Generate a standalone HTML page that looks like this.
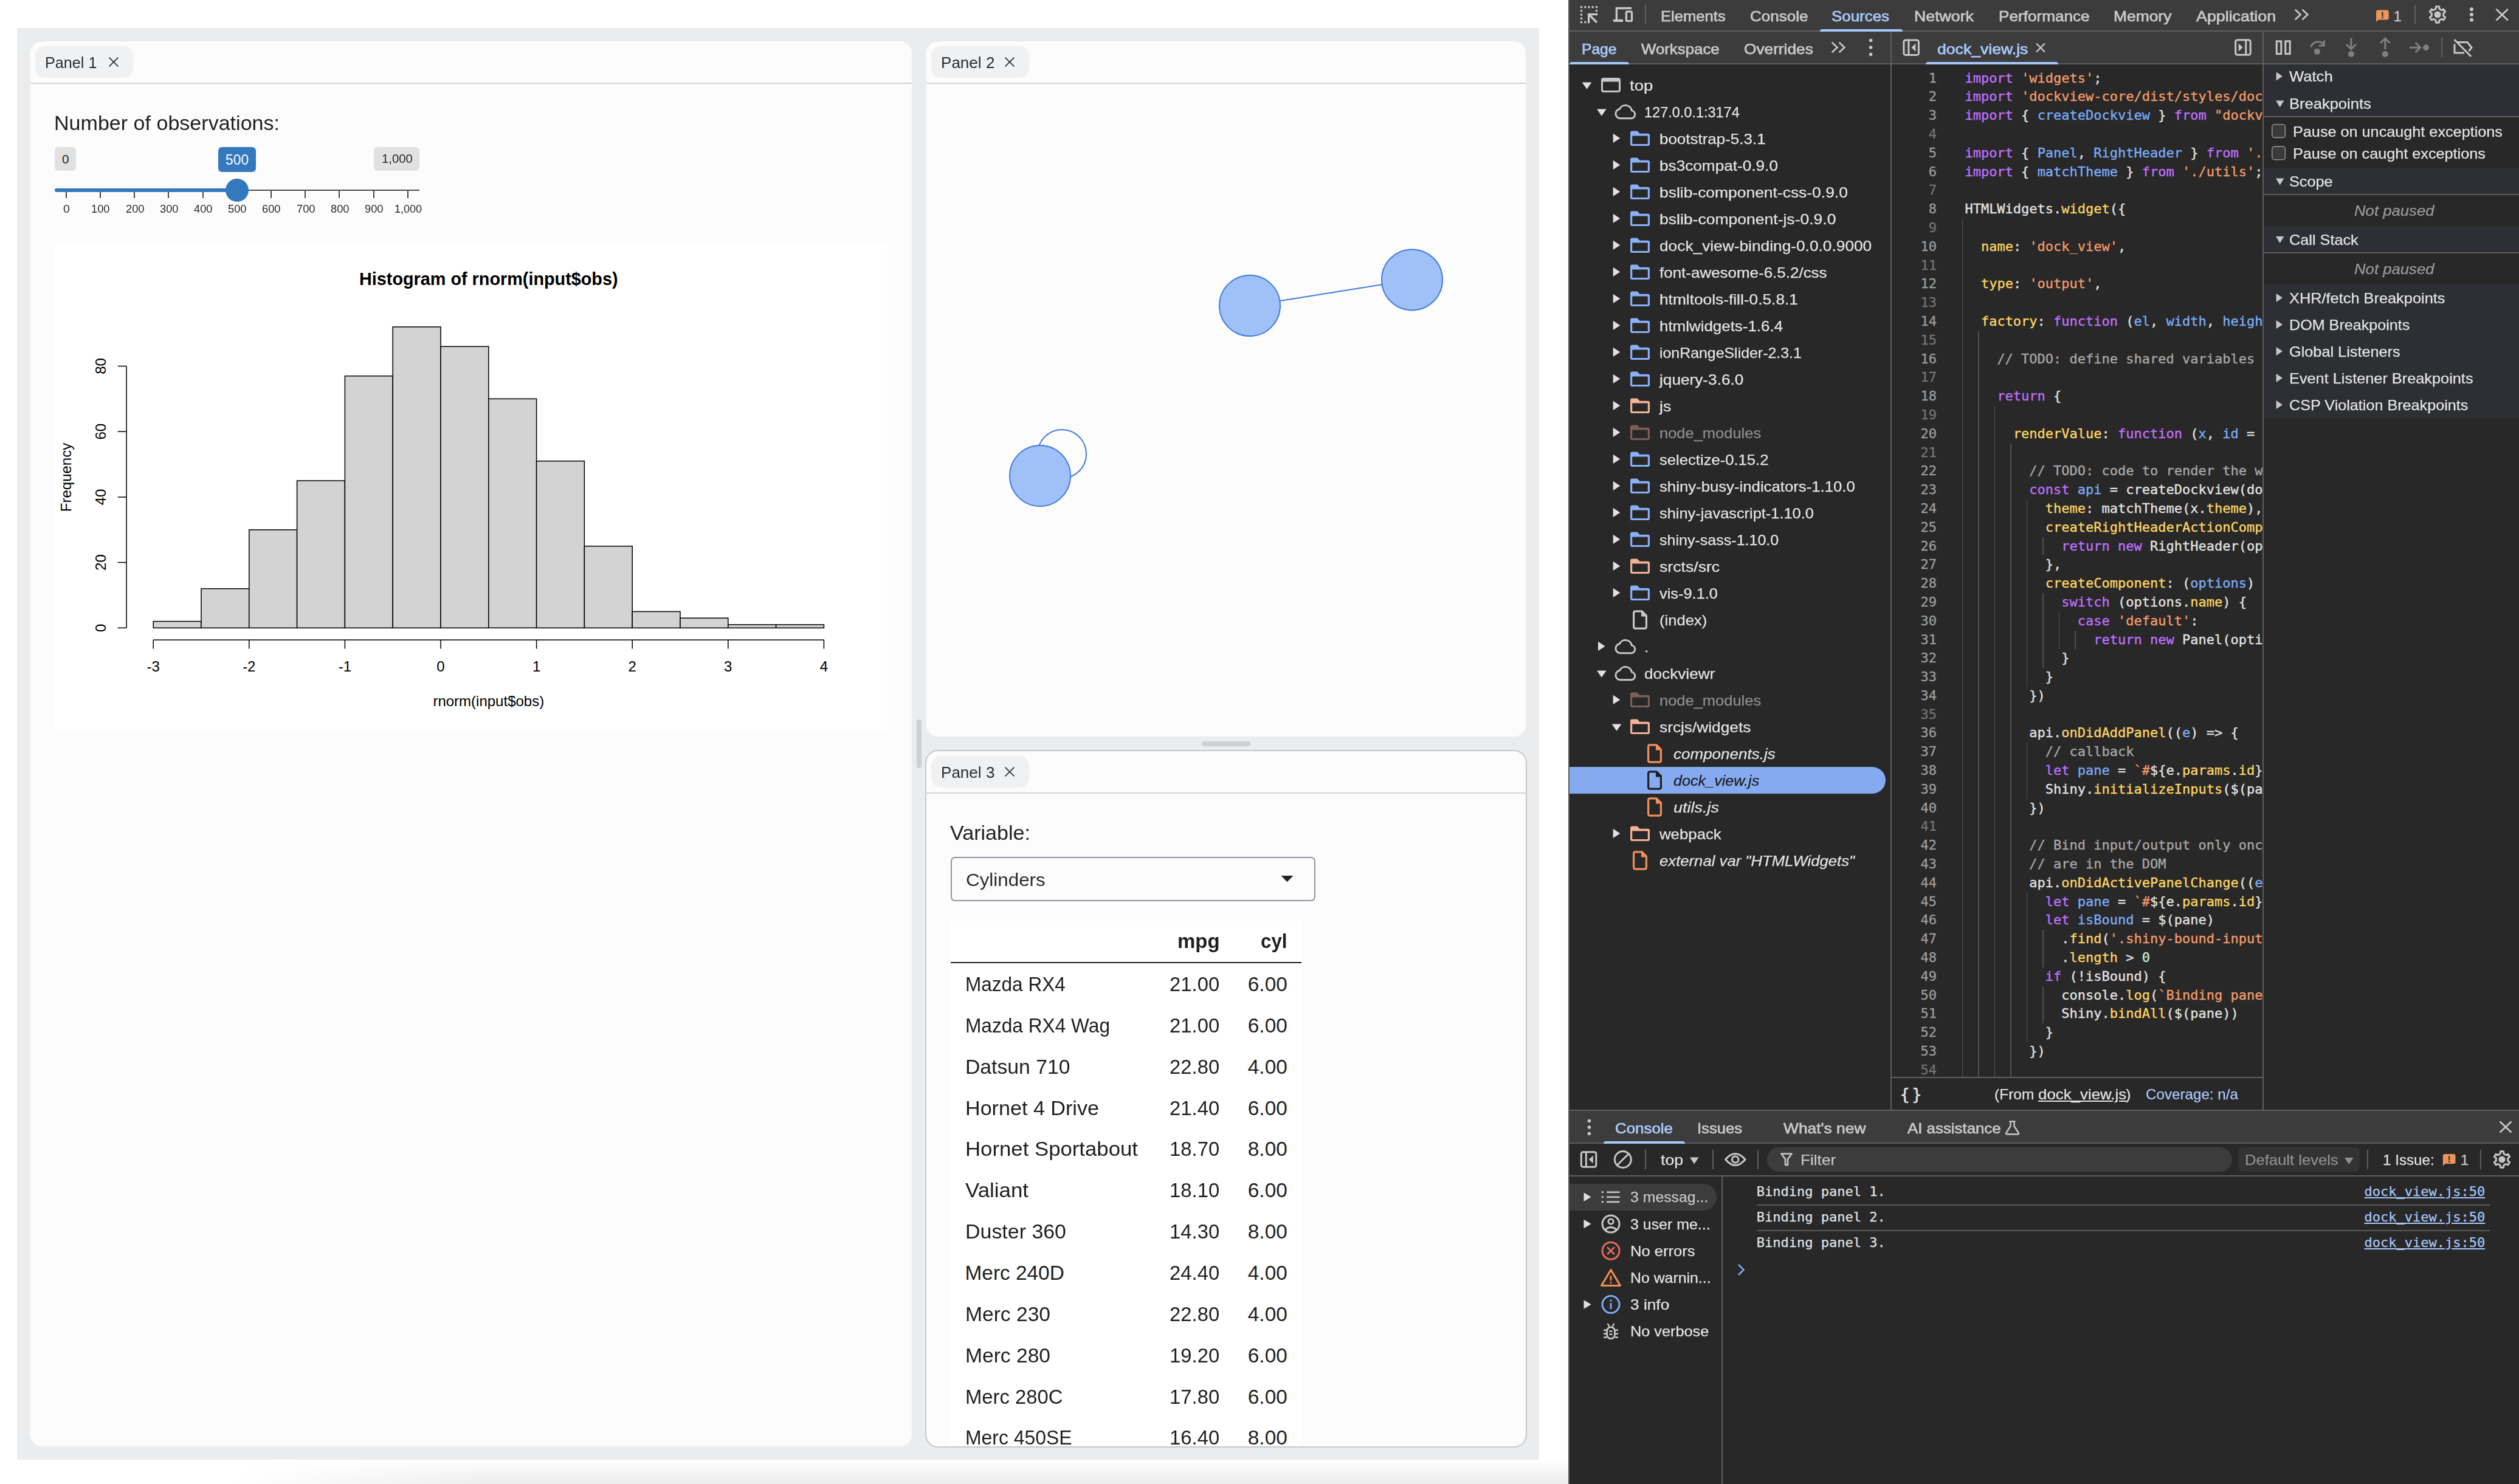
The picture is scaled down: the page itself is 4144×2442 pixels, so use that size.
<!DOCTYPE html>
<html lang="en"><head><meta charset="utf-8"><title>dockview shiny app with devtools</title>
<style>
html,body{margin:0;padding:0;background:#fff;}
body{width:4144px;height:2442px;position:relative;overflow:hidden;font-family:'Liberation Sans', sans-serif;}
.b{position:absolute;box-sizing:border-box;}
.t{position:absolute;white-space:pre;transform-origin:0 0;}
svg{position:absolute;overflow:visible;}
.gd i{position:absolute;width:1.6px;height:30.9px;background:#505050;display:block}.cd{position:absolute;white-space:pre;font:22px "DejaVu Sans Mono", "Liberation Mono", monospace;line-height:30.8px;color:#e3e3e3;-webkit-text-stroke:0.35px}.cd .k{color:#c070ff}.cd .s{color:#f49c6b}.cd .d{color:#7cacf8}.cd .p{color:#fdd663}.cd .c{color:#a8a8a8}.cd .n{color:#c4eed0}.ln{color:#9c9c9c;text-align:right}.ln .z{color:#737373}
</style></head><body>
<div class="b" style="left:28px;top:46px;width:2504px;height:2356px;background:#ebecee;"></div>
<div class="b" style="left:380px;top:2402px;width:2200px;height:40px;background:linear-gradient(to bottom, rgba(0,0,0,0.0), rgba(0,0,0,0.075));-webkit-mask-image:linear-gradient(to right, transparent 0, #000 420px);mask-image:linear-gradient(to right, transparent 0, #000 420px);"></div>
<div class="b" style="left:48px;top:66px;width:1454px;height:2316px;border:2px solid transparent;border-radius:21px;background:#fcfcfc;background-clip:padding-box;"></div>
<div class="b" style="left:50px;top:136px;width:1450px;height:2px;background:#d3d3d3;"></div>
<div class="b" style="left:58px;top:76px;width:161px;height:52px;background:#f0f1f3;border-radius:16px;"></div>
<div class="t" style="left:74.3px;top:89.9px;font:26.6px 'Liberation Sans', sans-serif;line-height:1;color:#2a2c2e;transform:scaleX(0.9467);">Panel 1</div>
<svg style="left:177.8px;top:92.7px" width="18" height="18" viewBox="-9 -9 18 18"><path d="M-7.4-7.4L7.4 7.4M7.4-7.4L-7.4 7.4" stroke="#2f3133" stroke-width="1.7" fill="none"/></svg>
<div class="b" style="left:1522px;top:66px;width:990px;height:1148px;border:2px solid transparent;border-radius:21px;background:#fcfcfc;background-clip:padding-box;"></div>
<div class="b" style="left:1524px;top:136px;width:986px;height:2px;background:#d3d3d3;"></div>
<div class="b" style="left:1532px;top:76px;width:161px;height:52px;background:#f0f1f3;border-radius:16px;"></div>
<div class="t" style="left:1548.3px;top:89.9px;font:26.6px 'Liberation Sans', sans-serif;line-height:1;color:#2a2c2e;transform:scaleX(0.9799);">Panel 2</div>
<svg style="left:1651.8px;top:92.7px" width="18" height="18" viewBox="-9 -9 18 18"><path d="M-7.4-7.4L7.4 7.4M7.4-7.4L-7.4 7.4" stroke="#2f3133" stroke-width="1.7" fill="none"/></svg>
<div class="b" style="left:1522px;top:1234px;width:990px;height:1148px;border:2px solid #c6c8ca;border-radius:21px;background:#fcfcfc;background-clip:padding-box;"></div>
<div class="b" style="left:1524px;top:1304px;width:986px;height:2px;background:#d3d3d3;"></div>
<div class="b" style="left:1532px;top:1244px;width:161px;height:52px;background:#f0f1f3;border-radius:16px;"></div>
<div class="t" style="left:1548.3px;top:1257.9px;font:26.6px 'Liberation Sans', sans-serif;line-height:1;color:#2a2c2e;transform:scaleX(0.9799);">Panel 3</div>
<svg style="left:1651.8px;top:1260.7px" width="18" height="18" viewBox="-9 -9 18 18"><path d="M-7.4-7.4L7.4 7.4M7.4-7.4L-7.4 7.4" stroke="#2f3133" stroke-width="1.7" fill="none"/></svg>
<div class="b" style="left:1508px;top:1184px;width:8px;height:80px;background:#cfd0d2;border-radius:4px;"></div>
<div class="b" style="left:1977px;top:1220px;width:80px;height:8px;background:#cfd0d2;border-radius:4px;"></div>
<div class="t" style="left:89.2px;top:185.7px;font:33.4px 'Liberation Sans', sans-serif;line-height:1;color:#1d1f21;transform:scaleX(1.0199);">Number of observations:</div>
<div class="b" style="left:90px;top:242px;width:35px;height:39px;background:#e1e1e1;border-radius:6px;"></div>
<div class="t" style="left:101.9px;top:251.6px;font:20.8px 'Liberation Sans', sans-serif;line-height:1;color:#2b2b2b;">0</div>
<div class="b" style="left:615px;top:242px;width:75px;height:39px;background:#e1e1e1;border-radius:6px;"></div>
<div class="t" style="left:627.6px;top:251.4px;font:20.8px 'Liberation Sans', sans-serif;line-height:1;color:#2b2b2b;transform:scaleX(0.9774);">1,000</div>
<div class="b" style="left:359px;top:242px;width:62px;height:41px;background:#3478be;border-radius:6px;"></div>
<div class="t" style="left:371.0px;top:252.0px;font:23.4px 'Liberation Sans', sans-serif;line-height:1;color:#ffffff;transform:scaleX(0.9789);">500</div>
<div class="b" style="left:90px;top:312px;width:600px;height:2px;background:#4b4b4b;"></div>
<div class="b" style="left:90px;top:310px;width:300px;height:6px;background:#3478be;border-radius:3px 0 0 3px;"></div>
<div class="b" style="left:108px;top:316px;width:2px;height:10px;background:#454545;"></div>
<div class="t" style="left:103.9px;top:335.3px;font:18.7px 'Liberation Sans', sans-serif;line-height:1;color:#2b2b2b;transform:scaleX(1.0458);">0</div>
<div class="b" style="left:164px;top:316px;width:2px;height:10px;background:#454545;"></div>
<div class="t" style="left:150.3px;top:335.3px;font:18.7px 'Liberation Sans', sans-serif;line-height:1;color:#2b2b2b;transform:scaleX(0.9774);">100</div>
<div class="b" style="left:220px;top:316px;width:2px;height:10px;background:#454545;"></div>
<div class="t" style="left:206.5px;top:335.3px;font:18.7px 'Liberation Sans', sans-serif;line-height:1;color:#2b2b2b;transform:scaleX(0.9774);">200</div>
<div class="b" style="left:276px;top:316px;width:2px;height:10px;background:#454545;"></div>
<div class="t" style="left:262.7px;top:335.3px;font:18.7px 'Liberation Sans', sans-serif;line-height:1;color:#2b2b2b;transform:scaleX(0.9774);">300</div>
<div class="b" style="left:333px;top:316px;width:2px;height:10px;background:#454545;"></div>
<div class="t" style="left:318.9px;top:335.3px;font:18.7px 'Liberation Sans', sans-serif;line-height:1;color:#2b2b2b;transform:scaleX(0.9774);">400</div>
<div class="b" style="left:389px;top:314px;width:2px;height:12px;background:#454545;"></div>
<div class="t" style="left:375.1px;top:335.3px;font:18.7px 'Liberation Sans', sans-serif;line-height:1;color:#2b2b2b;transform:scaleX(0.9774);">500</div>
<div class="b" style="left:445px;top:314px;width:2px;height:12px;background:#454545;"></div>
<div class="t" style="left:431.3px;top:335.3px;font:18.7px 'Liberation Sans', sans-serif;line-height:1;color:#2b2b2b;transform:scaleX(0.9774);">600</div>
<div class="b" style="left:501px;top:314px;width:2px;height:12px;background:#454545;"></div>
<div class="t" style="left:487.5px;top:335.3px;font:18.7px 'Liberation Sans', sans-serif;line-height:1;color:#2b2b2b;transform:scaleX(0.9774);">700</div>
<div class="b" style="left:557px;top:314px;width:2px;height:12px;background:#454545;"></div>
<div class="t" style="left:543.7px;top:335.3px;font:18.7px 'Liberation Sans', sans-serif;line-height:1;color:#2b2b2b;transform:scaleX(0.9774);">800</div>
<div class="b" style="left:614px;top:314px;width:2px;height:12px;background:#454545;"></div>
<div class="t" style="left:599.9px;top:335.3px;font:18.7px 'Liberation Sans', sans-serif;line-height:1;color:#2b2b2b;transform:scaleX(0.9774);">900</div>
<div class="b" style="left:670px;top:314px;width:2px;height:12px;background:#454545;"></div>
<div class="t" style="left:648.8px;top:335.3px;font:18.7px 'Liberation Sans', sans-serif;line-height:1;color:#2b2b2b;transform:scaleX(0.9640);">1,000</div>
<div class="b" style="left:371px;top:294px;width:38px;height:38px;background:#3478be;border-radius:50%;"></div>
<svg style="left:90px;top:400px" width="1370" height="800" viewBox="90 400 1370 800" font-family="Liberation Sans, sans-serif" fill="#000"><rect x="90" y="400" width="1370" height="800" fill="#ffffff"/><rect x="252.2" y="1022.5" width="78.8" height="10.8" fill="#d3d3d3" stroke="#000" stroke-width="1.5"/><rect x="331.0" y="968.7" width="78.8" height="64.6" fill="#d3d3d3" stroke="#000" stroke-width="1.5"/><rect x="409.8" y="871.8" width="78.8" height="161.5" fill="#d3d3d3" stroke="#000" stroke-width="1.5"/><rect x="488.6" y="791.0" width="78.8" height="242.3" fill="#d3d3d3" stroke="#000" stroke-width="1.5"/><rect x="567.4" y="618.7" width="78.8" height="414.6" fill="#d3d3d3" stroke="#000" stroke-width="1.5"/><rect x="646.2" y="537.9" width="78.8" height="495.4" fill="#d3d3d3" stroke="#000" stroke-width="1.5"/><rect x="725.0" y="570.2" width="78.8" height="463.1" fill="#d3d3d3" stroke="#000" stroke-width="1.5"/><rect x="803.8" y="656.3" width="78.8" height="376.9" fill="#d3d3d3" stroke="#000" stroke-width="1.5"/><rect x="882.6" y="758.7" width="78.8" height="274.6" fill="#d3d3d3" stroke="#000" stroke-width="1.5"/><rect x="961.4" y="898.7" width="78.8" height="134.6" fill="#d3d3d3" stroke="#000" stroke-width="1.5"/><rect x="1040.2" y="1006.4" width="78.8" height="26.9" fill="#d3d3d3" stroke="#000" stroke-width="1.5"/><rect x="1119.0" y="1017.1" width="78.8" height="16.2" fill="#d3d3d3" stroke="#000" stroke-width="1.5"/><rect x="1197.8" y="1027.9" width="78.8" height="5.4" fill="#d3d3d3" stroke="#000" stroke-width="1.5"/><rect x="1276.6" y="1027.9" width="78.8" height="5.4" fill="#d3d3d3" stroke="#000" stroke-width="1.5"/><path d="M252.2 1053.1H1355.4M252.2 1053.1v14.4M409.8 1053.1v14.4M567.4 1053.1v14.4M725.0 1053.1v14.4M882.6 1053.1v14.4M1040.2 1053.1v14.4M1197.8 1053.1v14.4M1355.4 1053.1v14.4M208.1 1033.3V602.5M208.1 1033.3h-14.4M208.1 925.6h-14.4M208.1 817.9h-14.4M208.1 710.2h-14.4M208.1 602.5h-14.4" stroke="#000" stroke-width="1.5" fill="none"/><text x="252.2" y="1105.4" font-size="24" text-anchor="middle">-3</text><text x="409.8" y="1105.4" font-size="24" text-anchor="middle">-2</text><text x="567.4" y="1105.4" font-size="24" text-anchor="middle">-1</text><text x="725.0" y="1105.4" font-size="24" text-anchor="middle">0</text><text x="882.6" y="1105.4" font-size="24" text-anchor="middle">1</text><text x="1040.2" y="1105.4" font-size="24" text-anchor="middle">2</text><text x="1197.8" y="1105.4" font-size="24" text-anchor="middle">3</text><text x="1355.4" y="1105.4" font-size="24" text-anchor="middle">4</text><text transform="translate(174.4 1033.3) rotate(-90)" font-size="24" text-anchor="middle">0</text><text transform="translate(174.4 925.6) rotate(-90)" font-size="24" text-anchor="middle">20</text><text transform="translate(174.4 817.9) rotate(-90)" font-size="24" text-anchor="middle">40</text><text transform="translate(174.4 710.2) rotate(-90)" font-size="24" text-anchor="middle">60</text><text transform="translate(174.4 602.5) rotate(-90)" font-size="24" text-anchor="middle">80</text><text x="803.8" y="1162" font-size="24" text-anchor="middle">rnorm(input$obs)</text><text transform="translate(116.8 785.5) rotate(-90)" font-size="24" text-anchor="middle">Frequency</text><text x="803.8" y="469.3" font-size="28.8" font-weight="bold" text-anchor="middle">Histogram of rnorm(input$obs)</text></svg>
<svg style="left:1524px;top:138px" width="986" height="1074" viewBox="1524 138 986 1074"><g stroke="#3f7be0" stroke-width="2"><circle cx="1747" cy="747" r="40" fill="none"/><line x1="2056" y1="503" x2="2323" y2="460.4"/><circle cx="2056" cy="503" r="50" fill="#a0c1f8"/><circle cx="2323" cy="460.4" r="50" fill="#a0c1f8"/><circle cx="1711" cy="783" r="50" fill="#a0c1f8"/></g></svg>
<div class="t" style="left:1562.5px;top:1354.2px;font:33.4px 'Liberation Sans', sans-serif;line-height:1;color:#1d1f21;transform:scaleX(1.0208);">Variable:</div>
<div class="b" style="left:1564px;top:1410px;width:600px;height:73px;background:#fcfcfc;border:2px solid #8d959f;border-radius:7px;"></div>
<div class="t" style="left:1589.0px;top:1431.7px;font:30.4px 'Liberation Sans', sans-serif;line-height:1;color:#2a2c2e;transform:scaleX(1.0321);">Cylinders</div>
<svg style="left:2107px;top:1441px" width="22" height="11" viewBox="0 0 22 11"><path d="M0.5 0H20.5L10.5 10.2Z" fill="#222"/></svg>
<div class="b" style="left:0;top:0;width:4144px;height:2442px;clip-path:inset(1306px 1634px 62px 1524px round 0 0 19px 19px)">
<div class="b" style="left:1564px;top:1514.5px;width:577px;height:870px;background:#ffffff;"></div>
<div class="b" style="left:1564px;top:1582.8px;width:577px;height:2px;background:#1d1f21;"></div>
<div class="t" style="left:1937.2px;top:1532.4px;font:bold 33.4px 'Liberation Sans', sans-serif;line-height:1;color:#1d1f21;transform:scaleX(0.9861);">mpg</div>
<div class="t" style="left:2074.3px;top:1532.4px;font:bold 33.4px 'Liberation Sans', sans-serif;line-height:1;color:#1d1f21;transform:scaleX(0.9372);">cyl</div>
<div class="t" style="left:1587.5px;top:1603.0px;font:33.4px 'Liberation Sans', sans-serif;line-height:1;color:#1d1f21;transform:scaleX(0.9441);">Mazda RX4</div>
<div class="t" style="left:1924.1px;top:1603.0px;font:33.4px 'Liberation Sans', sans-serif;line-height:1;color:#1d1f21;transform:scaleX(0.9838);">21.00</div>
<div class="t" style="left:2052.8px;top:1603.0px;font:33.4px 'Liberation Sans', sans-serif;line-height:1;color:#1d1f21;">6.00</div>
<div class="t" style="left:1587.5px;top:1670.9px;font:33.4px 'Liberation Sans', sans-serif;line-height:1;color:#1d1f21;transform:scaleX(0.9476);">Mazda RX4 Wag</div>
<div class="t" style="left:1924.1px;top:1670.9px;font:33.4px 'Liberation Sans', sans-serif;line-height:1;color:#1d1f21;transform:scaleX(0.9838);">21.00</div>
<div class="t" style="left:2052.8px;top:1670.9px;font:33.4px 'Liberation Sans', sans-serif;line-height:1;color:#1d1f21;">6.00</div>
<div class="t" style="left:1587.5px;top:1738.7px;font:33.4px 'Liberation Sans', sans-serif;line-height:1;color:#1d1f21;transform:scaleX(1.0100);">Datsun 710</div>
<div class="t" style="left:1924.1px;top:1738.7px;font:33.4px 'Liberation Sans', sans-serif;line-height:1;color:#1d1f21;transform:scaleX(0.9838);">22.80</div>
<div class="t" style="left:2052.8px;top:1738.7px;font:33.4px 'Liberation Sans', sans-serif;line-height:1;color:#1d1f21;">4.00</div>
<div class="t" style="left:1587.5px;top:1806.6px;font:33.4px 'Liberation Sans', sans-serif;line-height:1;color:#1d1f21;transform:scaleX(1.0220);">Hornet 4 Drive</div>
<div class="t" style="left:1924.1px;top:1806.6px;font:33.4px 'Liberation Sans', sans-serif;line-height:1;color:#1d1f21;transform:scaleX(0.9838);">21.40</div>
<div class="t" style="left:2052.8px;top:1806.6px;font:33.4px 'Liberation Sans', sans-serif;line-height:1;color:#1d1f21;">6.00</div>
<div class="t" style="left:1587.5px;top:1874.4px;font:33.4px 'Liberation Sans', sans-serif;line-height:1;color:#1d1f21;transform:scaleX(1.0408);">Hornet Sportabout</div>
<div class="t" style="left:1924.1px;top:1874.4px;font:33.4px 'Liberation Sans', sans-serif;line-height:1;color:#1d1f21;transform:scaleX(0.9838);">18.70</div>
<div class="t" style="left:2052.8px;top:1874.4px;font:33.4px 'Liberation Sans', sans-serif;line-height:1;color:#1d1f21;">8.00</div>
<div class="t" style="left:1587.5px;top:1942.3px;font:33.4px 'Liberation Sans', sans-serif;line-height:1;color:#1d1f21;transform:scaleX(1.0440);">Valiant</div>
<div class="t" style="left:1924.1px;top:1942.3px;font:33.4px 'Liberation Sans', sans-serif;line-height:1;color:#1d1f21;transform:scaleX(0.9838);">18.10</div>
<div class="t" style="left:2052.8px;top:1942.3px;font:33.4px 'Liberation Sans', sans-serif;line-height:1;color:#1d1f21;">6.00</div>
<div class="t" style="left:1587.5px;top:2010.1px;font:33.4px 'Liberation Sans', sans-serif;line-height:1;color:#1d1f21;transform:scaleX(1.0163);">Duster 360</div>
<div class="t" style="left:1924.1px;top:2010.1px;font:33.4px 'Liberation Sans', sans-serif;line-height:1;color:#1d1f21;transform:scaleX(0.9838);">14.30</div>
<div class="t" style="left:2052.8px;top:2010.1px;font:33.4px 'Liberation Sans', sans-serif;line-height:1;color:#1d1f21;">8.00</div>
<div class="t" style="left:1587.5px;top:2078.0px;font:33.4px 'Liberation Sans', sans-serif;line-height:1;color:#1d1f21;">Merc 240D</div>
<div class="t" style="left:1924.1px;top:2078.0px;font:33.4px 'Liberation Sans', sans-serif;line-height:1;color:#1d1f21;transform:scaleX(0.9838);">24.40</div>
<div class="t" style="left:2052.8px;top:2078.0px;font:33.4px 'Liberation Sans', sans-serif;line-height:1;color:#1d1f21;">4.00</div>
<div class="t" style="left:1587.5px;top:2145.8px;font:33.4px 'Liberation Sans', sans-serif;line-height:1;color:#1d1f21;transform:scaleX(1.0059);">Merc 230</div>
<div class="t" style="left:1924.1px;top:2145.8px;font:33.4px 'Liberation Sans', sans-serif;line-height:1;color:#1d1f21;transform:scaleX(0.9838);">22.80</div>
<div class="t" style="left:2052.8px;top:2145.8px;font:33.4px 'Liberation Sans', sans-serif;line-height:1;color:#1d1f21;">4.00</div>
<div class="t" style="left:1587.5px;top:2213.7px;font:33.4px 'Liberation Sans', sans-serif;line-height:1;color:#1d1f21;transform:scaleX(1.0059);">Merc 280</div>
<div class="t" style="left:1924.1px;top:2213.7px;font:33.4px 'Liberation Sans', sans-serif;line-height:1;color:#1d1f21;transform:scaleX(0.9838);">19.20</div>
<div class="t" style="left:2052.8px;top:2213.7px;font:33.4px 'Liberation Sans', sans-serif;line-height:1;color:#1d1f21;">6.00</div>
<div class="t" style="left:1587.5px;top:2281.5px;font:33.4px 'Liberation Sans', sans-serif;line-height:1;color:#1d1f21;transform:scaleX(0.9828);">Merc 280C</div>
<div class="t" style="left:1924.1px;top:2281.5px;font:33.4px 'Liberation Sans', sans-serif;line-height:1;color:#1d1f21;transform:scaleX(0.9838);">17.80</div>
<div class="t" style="left:2052.8px;top:2281.5px;font:33.4px 'Liberation Sans', sans-serif;line-height:1;color:#1d1f21;">6.00</div>
<div class="t" style="left:1587.5px;top:2349.4px;font:33.4px 'Liberation Sans', sans-serif;line-height:1;color:#1d1f21;transform:scaleX(0.9552);">Merc 450SE</div>
<div class="t" style="left:1924.1px;top:2349.4px;font:33.4px 'Liberation Sans', sans-serif;line-height:1;color:#1d1f21;transform:scaleX(0.9838);">16.40</div>
<div class="t" style="left:2052.8px;top:2349.4px;font:33.4px 'Liberation Sans', sans-serif;line-height:1;color:#1d1f21;">8.00</div>
</div>
<div class="b" style="left:2580px;top:0px;width:1564px;height:2442px;background:#282828;"></div>
<div class="b" style="left:2580px;top:0px;width:2px;height:2442px;background:#5c5c5c;"></div>
<div class="b" style="left:2582px;top:0px;width:1562px;height:106px;background:#3c3c3c;"></div>
<div class="b" style="left:2582px;top:50px;width:1562px;height:2px;background:#5e5e5e;"></div>
<div class="b" style="left:2582px;top:104px;width:1562px;height:2px;background:#5e5e5e;"></div>
<div class="b" style="left:2706px;top:8px;width:2px;height:32px;background:#5e5e5e;"></div>
<div class="t" style="left:2731.7px;top:14.9px;font:24px 'Liberation Sans', sans-serif;line-height:1;color:#c7c7c7;transform:scaleX(1.0671);-webkit-text-stroke:0.75px;">Elements</div>
<div class="t" style="left:2879.0px;top:14.9px;font:24px 'Liberation Sans', sans-serif;line-height:1;color:#c7c7c7;transform:scaleX(1.0829);-webkit-text-stroke:0.75px;">Console</div>
<div class="t" style="left:3013.2px;top:14.9px;font:24px 'Liberation Sans', sans-serif;line-height:1;color:#a8c7fa;transform:scaleX(1.0797);-webkit-text-stroke:0.75px;">Sources</div>
<div class="b" style="left:2994px;top:47.6px;width:136px;height:4.4px;background:#a8c7fa;border-radius:5px 5px 0 0;"></div>
<div class="t" style="left:3149.4px;top:14.9px;font:24px 'Liberation Sans', sans-serif;line-height:1;color:#c7c7c7;transform:scaleX(1.1128);-webkit-text-stroke:0.75px;">Network</div>
<div class="t" style="left:3287.6px;top:14.9px;font:24px 'Liberation Sans', sans-serif;line-height:1;color:#c7c7c7;transform:scaleX(1.0893);-webkit-text-stroke:0.75px;">Performance</div>
<div class="t" style="left:3477.1px;top:14.9px;font:24px 'Liberation Sans', sans-serif;line-height:1;color:#c7c7c7;transform:scaleX(1.1002);-webkit-text-stroke:0.75px;">Memory</div>
<div class="t" style="left:3613.3px;top:14.9px;font:24px 'Liberation Sans', sans-serif;line-height:1;color:#c7c7c7;transform:scaleX(1.1170);-webkit-text-stroke:0.75px;">Application</div>
<div class="t" style="left:3937.5px;top:15.3px;font:24px 'Liberation Sans', sans-serif;line-height:1;color:#c7c7c7;-webkit-text-stroke:0.25px;">1</div>
<div class="b" style="left:3972px;top:8px;width:2px;height:32px;background:#5e5e5e;"></div>
<div class="t" style="left:2602.4px;top:68.9px;font:24px 'Liberation Sans', sans-serif;line-height:1;color:#a8c7fa;transform:scaleX(1.0231);-webkit-text-stroke:0.75px;">Page</div>
<div class="b" style="left:2582px;top:101.5px;width:98px;height:4.5px;background:#a8c7fa;border-radius:5px 5px 0 0;"></div>
<div class="t" style="left:2700.1px;top:68.9px;font:24px 'Liberation Sans', sans-serif;line-height:1;color:#c7c7c7;transform:scaleX(1.0757);-webkit-text-stroke:0.75px;">Workspace</div>
<div class="t" style="left:2869.3px;top:68.9px;font:24px 'Liberation Sans', sans-serif;line-height:1;color:#c7c7c7;transform:scaleX(1.0935);-webkit-text-stroke:0.75px;">Overrides</div>
<div class="b" style="left:3110px;top:52px;width:2px;height:1776px;background:#5e5e5e;"></div>
<div class="t" style="left:3187.3px;top:68.9px;font:24px 'Liberation Sans', sans-serif;line-height:1;color:#a8c7fa;transform:scaleX(1.1086);-webkit-text-stroke:0.75px;">dock_view.js</div>
<div class="b" style="left:3168px;top:101.5px;width:218px;height:4.5px;background:#a8c7fa;border-radius:5px 5px 0 0;"></div>
<div class="b" style="left:3722px;top:52px;width:2px;height:1776px;background:#5e5e5e;"></div>
<div class="b" style="left:4015.7px;top:62px;width:2px;height:32px;background:#5e5e5e;"></div>
<div class="t" style="left:2681.2px;top:128.6px;font:24px 'Liberation Sans', sans-serif;line-height:1;color:#e3e3e3;transform:scaleX(1.1494);-webkit-text-stroke:0.25px;">top</div>
<div class="t" style="left:2705.2px;top:172.6px;font:24px 'Liberation Sans', sans-serif;line-height:1;color:#e3e3e3;transform:scaleX(0.9788);-webkit-text-stroke:0.25px;">127.0.0.1:3174</div>
<div class="t" style="left:2729.5px;top:216.6px;font:24px 'Liberation Sans', sans-serif;line-height:1;color:#e3e3e3;transform:scaleX(1.0813);-webkit-text-stroke:0.25px;">bootstrap-5.3.1</div>
<div class="t" style="left:2729.5px;top:260.6px;font:24px 'Liberation Sans', sans-serif;line-height:1;color:#e3e3e3;transform:scaleX(1.0905);-webkit-text-stroke:0.25px;">bs3compat-0.9.0</div>
<div class="t" style="left:2729.5px;top:304.6px;font:24px 'Liberation Sans', sans-serif;line-height:1;color:#e3e3e3;transform:scaleX(1.1009);-webkit-text-stroke:0.25px;">bslib-component-css-0.9.0</div>
<div class="t" style="left:2729.5px;top:348.6px;font:24px 'Liberation Sans', sans-serif;line-height:1;color:#e3e3e3;transform:scaleX(1.1053);-webkit-text-stroke:0.25px;">bslib-component-js-0.9.0</div>
<div class="t" style="left:2729.5px;top:392.6px;font:24px 'Liberation Sans', sans-serif;line-height:1;color:#e3e3e3;transform:scaleX(1.0952);-webkit-text-stroke:0.25px;">dock_view-binding-0.0.0.9000</div>
<div class="t" style="left:2729.5px;top:436.6px;font:24px 'Liberation Sans', sans-serif;line-height:1;color:#e3e3e3;transform:scaleX(1.0816);-webkit-text-stroke:0.25px;">font-awesome-6.5.2/css</div>
<div class="t" style="left:2729.5px;top:480.6px;font:24px 'Liberation Sans', sans-serif;line-height:1;color:#e3e3e3;transform:scaleX(1.0956);-webkit-text-stroke:0.25px;">htmltools-fill-0.5.8.1</div>
<div class="t" style="left:2729.5px;top:524.6px;font:24px 'Liberation Sans', sans-serif;line-height:1;color:#e3e3e3;transform:scaleX(1.0796);-webkit-text-stroke:0.25px;">htmlwidgets-1.6.4</div>
<div class="t" style="left:2729.5px;top:568.6px;font:24px 'Liberation Sans', sans-serif;line-height:1;color:#e3e3e3;transform:scaleX(1.0367);-webkit-text-stroke:0.25px;">ionRangeSlider-2.3.1</div>
<div class="t" style="left:2729.5px;top:612.6px;font:24px 'Liberation Sans', sans-serif;line-height:1;color:#e3e3e3;transform:scaleX(1.0916);-webkit-text-stroke:0.25px;">jquery-3.6.0</div>
<div class="t" style="left:2729.5px;top:656.6px;font:24px 'Liberation Sans', sans-serif;line-height:1;color:#e3e3e3;transform:scaleX(1.1105);-webkit-text-stroke:0.25px;">js</div>
<div class="t" style="left:2729.5px;top:700.6px;font:24px 'Liberation Sans', sans-serif;line-height:1;color:#8f8f8f;transform:scaleX(1.0616);-webkit-text-stroke:0.25px;">node_modules</div>
<div class="t" style="left:2729.5px;top:744.6px;font:24px 'Liberation Sans', sans-serif;line-height:1;color:#e3e3e3;transform:scaleX(1.0676);-webkit-text-stroke:0.25px;">selectize-0.15.2</div>
<div class="t" style="left:2729.5px;top:788.6px;font:24px 'Liberation Sans', sans-serif;line-height:1;color:#e3e3e3;transform:scaleX(1.0720);-webkit-text-stroke:0.25px;">shiny-busy-indicators-1.10.0</div>
<div class="t" style="left:2729.5px;top:832.6px;font:24px 'Liberation Sans', sans-serif;line-height:1;color:#e3e3e3;transform:scaleX(1.0573);-webkit-text-stroke:0.25px;">shiny-javascript-1.10.0</div>
<div class="t" style="left:2729.5px;top:876.6px;font:24px 'Liberation Sans', sans-serif;line-height:1;color:#e3e3e3;transform:scaleX(1.0434);-webkit-text-stroke:0.25px;">shiny-sass-1.10.0</div>
<div class="t" style="left:2729.5px;top:920.6px;font:24px 'Liberation Sans', sans-serif;line-height:1;color:#e3e3e3;transform:scaleX(1.1101);-webkit-text-stroke:0.25px;">srcts/src</div>
<div class="t" style="left:2729.5px;top:964.6px;font:24px 'Liberation Sans', sans-serif;line-height:1;color:#e3e3e3;transform:scaleX(1.0580);-webkit-text-stroke:0.25px;">vis-9.1.0</div>
<div class="t" style="left:2729.5px;top:1008.6px;font:24px 'Liberation Sans', sans-serif;line-height:1;color:#e3e3e3;transform:scaleX(1.0654);-webkit-text-stroke:0.25px;">(index)</div>
<div class="t" style="left:2705.2px;top:1052.6px;font:24px 'Liberation Sans', sans-serif;line-height:1;color:#e3e3e3;-webkit-text-stroke:0.25px;">.</div>
<div class="t" style="left:2705.2px;top:1096.6px;font:24px 'Liberation Sans', sans-serif;line-height:1;color:#e3e3e3;transform:scaleX(1.0905);-webkit-text-stroke:0.25px;">dockviewr</div>
<div class="t" style="left:2729.5px;top:1140.6px;font:24px 'Liberation Sans', sans-serif;line-height:1;color:#8f8f8f;transform:scaleX(1.0616);-webkit-text-stroke:0.25px;">node_modules</div>
<div class="t" style="left:2729.5px;top:1184.6px;font:24px 'Liberation Sans', sans-serif;line-height:1;color:#e3e3e3;transform:scaleX(1.0945);-webkit-text-stroke:0.25px;">srcjs/widgets</div>
<div class="t" style="left:2752.9px;top:1228.6px;font:italic 24px 'Liberation Sans', sans-serif;line-height:1;color:#e3e3e3;transform:scaleX(1.0841);-webkit-text-stroke:0.25px;">components.js</div>
<div class="b" style="left:2582px;top:1261.8px;width:520px;height:44.5px;background:#86aaf0;border-radius:0 22.3px 22.3px 0;"></div>
<div class="t" style="left:2752.9px;top:1272.6px;font:italic 24px 'Liberation Sans', sans-serif;line-height:1;color:#1f1f1f;transform:scaleX(1.0484);-webkit-text-stroke:0.25px;">dock_view.js</div>
<div class="t" style="left:2752.9px;top:1316.6px;font:italic 24px 'Liberation Sans', sans-serif;line-height:1;color:#e3e3e3;transform:scaleX(1.1240);-webkit-text-stroke:0.25px;">utils.js</div>
<div class="t" style="left:2729.5px;top:1360.6px;font:24px 'Liberation Sans', sans-serif;line-height:1;color:#e3e3e3;transform:scaleX(1.0742);-webkit-text-stroke:0.25px;">webpack</div>
<div class="t" style="left:2729.5px;top:1404.6px;font:italic 24px 'Liberation Sans', sans-serif;line-height:1;color:#e3e3e3;transform:scaleX(1.0704);-webkit-text-stroke:0.25px;">external var "HTMLWidgets"</div>
<div class="b" style="left:3112px;top:106px;width:610px;height:1666px;overflow:hidden;">
<div class="gd"><i style="left:115.6px;top:254.0px"></i><i style="left:115.6px;top:284.8px"></i><i style="left:115.6px;top:315.6px"></i><i style="left:115.6px;top:346.4px"></i><i style="left:115.6px;top:377.2px"></i><i style="left:115.6px;top:408.0px"></i><i style="left:115.6px;top:438.8px"></i><i style="left:142.1px;top:438.8px"></i><i style="left:115.6px;top:469.6px"></i><i style="left:142.1px;top:469.6px"></i><i style="left:115.6px;top:500.4px"></i><i style="left:142.1px;top:500.4px"></i><i style="left:115.6px;top:531.2px"></i><i style="left:142.1px;top:531.2px"></i><i style="left:115.6px;top:562.0px"></i><i style="left:142.1px;top:562.0px"></i><i style="left:168.6px;top:562.0px"></i><i style="left:115.6px;top:592.8px"></i><i style="left:142.1px;top:592.8px"></i><i style="left:168.6px;top:592.8px"></i><i style="left:115.6px;top:623.6px"></i><i style="left:142.1px;top:623.6px"></i><i style="left:168.6px;top:623.6px"></i><i style="left:195.1px;top:623.6px"></i><i style="left:115.6px;top:654.4px"></i><i style="left:142.1px;top:654.4px"></i><i style="left:168.6px;top:654.4px"></i><i style="left:195.1px;top:654.4px"></i><i style="left:115.6px;top:685.2px"></i><i style="left:142.1px;top:685.2px"></i><i style="left:168.6px;top:685.2px"></i><i style="left:195.1px;top:685.2px"></i><i style="left:115.6px;top:716.0px"></i><i style="left:142.1px;top:716.0px"></i><i style="left:168.6px;top:716.0px"></i><i style="left:195.1px;top:716.0px"></i><i style="left:221.6px;top:716.0px"></i><i style="left:115.6px;top:746.8px"></i><i style="left:142.1px;top:746.8px"></i><i style="left:168.6px;top:746.8px"></i><i style="left:195.1px;top:746.8px"></i><i style="left:221.6px;top:746.8px"></i><i style="left:115.6px;top:777.6px"></i><i style="left:142.1px;top:777.6px"></i><i style="left:168.6px;top:777.6px"></i><i style="left:195.1px;top:777.6px"></i><i style="left:221.6px;top:777.6px"></i><i style="left:248.0px;top:777.6px"></i><i style="left:115.6px;top:808.4px"></i><i style="left:142.1px;top:808.4px"></i><i style="left:168.6px;top:808.4px"></i><i style="left:195.1px;top:808.4px"></i><i style="left:221.6px;top:808.4px"></i><i style="left:115.6px;top:839.2px"></i><i style="left:142.1px;top:839.2px"></i><i style="left:168.6px;top:839.2px"></i><i style="left:195.1px;top:839.2px"></i><i style="left:221.6px;top:839.2px"></i><i style="left:115.6px;top:870.0px"></i><i style="left:142.1px;top:870.0px"></i><i style="left:168.6px;top:870.0px"></i><i style="left:195.1px;top:870.0px"></i><i style="left:221.6px;top:870.0px"></i><i style="left:248.0px;top:870.0px"></i><i style="left:115.6px;top:900.8px"></i><i style="left:142.1px;top:900.8px"></i><i style="left:168.6px;top:900.8px"></i><i style="left:195.1px;top:900.8px"></i><i style="left:221.6px;top:900.8px"></i><i style="left:248.0px;top:900.8px"></i><i style="left:274.5px;top:900.8px"></i><i style="left:115.6px;top:931.6px"></i><i style="left:142.1px;top:931.6px"></i><i style="left:168.6px;top:931.6px"></i><i style="left:195.1px;top:931.6px"></i><i style="left:221.6px;top:931.6px"></i><i style="left:248.0px;top:931.6px"></i><i style="left:274.5px;top:931.6px"></i><i style="left:301.0px;top:931.6px"></i><i style="left:115.6px;top:962.4px"></i><i style="left:142.1px;top:962.4px"></i><i style="left:168.6px;top:962.4px"></i><i style="left:195.1px;top:962.4px"></i><i style="left:221.6px;top:962.4px"></i><i style="left:248.0px;top:962.4px"></i><i style="left:115.6px;top:993.2px"></i><i style="left:142.1px;top:993.2px"></i><i style="left:168.6px;top:993.2px"></i><i style="left:195.1px;top:993.2px"></i><i style="left:221.6px;top:993.2px"></i><i style="left:115.6px;top:1024.0px"></i><i style="left:142.1px;top:1024.0px"></i><i style="left:168.6px;top:1024.0px"></i><i style="left:195.1px;top:1024.0px"></i><i style="left:115.6px;top:1054.8px"></i><i style="left:142.1px;top:1054.8px"></i><i style="left:168.6px;top:1054.8px"></i><i style="left:195.1px;top:1054.8px"></i><i style="left:115.6px;top:1085.6px"></i><i style="left:142.1px;top:1085.6px"></i><i style="left:168.6px;top:1085.6px"></i><i style="left:195.1px;top:1085.6px"></i><i style="left:115.6px;top:1116.4px"></i><i style="left:142.1px;top:1116.4px"></i><i style="left:168.6px;top:1116.4px"></i><i style="left:195.1px;top:1116.4px"></i><i style="left:221.6px;top:1116.4px"></i><i style="left:115.6px;top:1147.2px"></i><i style="left:142.1px;top:1147.2px"></i><i style="left:168.6px;top:1147.2px"></i><i style="left:195.1px;top:1147.2px"></i><i style="left:221.6px;top:1147.2px"></i><i style="left:115.6px;top:1178.0px"></i><i style="left:142.1px;top:1178.0px"></i><i style="left:168.6px;top:1178.0px"></i><i style="left:195.1px;top:1178.0px"></i><i style="left:221.6px;top:1178.0px"></i><i style="left:115.6px;top:1208.8px"></i><i style="left:142.1px;top:1208.8px"></i><i style="left:168.6px;top:1208.8px"></i><i style="left:195.1px;top:1208.8px"></i><i style="left:115.6px;top:1239.6px"></i><i style="left:142.1px;top:1239.6px"></i><i style="left:168.6px;top:1239.6px"></i><i style="left:195.1px;top:1239.6px"></i><i style="left:115.6px;top:1270.4px"></i><i style="left:142.1px;top:1270.4px"></i><i style="left:168.6px;top:1270.4px"></i><i style="left:195.1px;top:1270.4px"></i><i style="left:115.6px;top:1301.2px"></i><i style="left:142.1px;top:1301.2px"></i><i style="left:168.6px;top:1301.2px"></i><i style="left:195.1px;top:1301.2px"></i><i style="left:115.6px;top:1332.0px"></i><i style="left:142.1px;top:1332.0px"></i><i style="left:168.6px;top:1332.0px"></i><i style="left:195.1px;top:1332.0px"></i><i style="left:115.6px;top:1362.8px"></i><i style="left:142.1px;top:1362.8px"></i><i style="left:168.6px;top:1362.8px"></i><i style="left:195.1px;top:1362.8px"></i><i style="left:221.6px;top:1362.8px"></i><i style="left:115.6px;top:1393.6px"></i><i style="left:142.1px;top:1393.6px"></i><i style="left:168.6px;top:1393.6px"></i><i style="left:195.1px;top:1393.6px"></i><i style="left:221.6px;top:1393.6px"></i><i style="left:115.6px;top:1424.4px"></i><i style="left:142.1px;top:1424.4px"></i><i style="left:168.6px;top:1424.4px"></i><i style="left:195.1px;top:1424.4px"></i><i style="left:221.6px;top:1424.4px"></i><i style="left:248.0px;top:1424.4px"></i><i style="left:115.6px;top:1455.2px"></i><i style="left:142.1px;top:1455.2px"></i><i style="left:168.6px;top:1455.2px"></i><i style="left:195.1px;top:1455.2px"></i><i style="left:221.6px;top:1455.2px"></i><i style="left:248.0px;top:1455.2px"></i><i style="left:115.6px;top:1486.0px"></i><i style="left:142.1px;top:1486.0px"></i><i style="left:168.6px;top:1486.0px"></i><i style="left:195.1px;top:1486.0px"></i><i style="left:221.6px;top:1486.0px"></i><i style="left:115.6px;top:1516.8px"></i><i style="left:142.1px;top:1516.8px"></i><i style="left:168.6px;top:1516.8px"></i><i style="left:195.1px;top:1516.8px"></i><i style="left:221.6px;top:1516.8px"></i><i style="left:248.0px;top:1516.8px"></i><i style="left:115.6px;top:1547.6px"></i><i style="left:142.1px;top:1547.6px"></i><i style="left:168.6px;top:1547.6px"></i><i style="left:195.1px;top:1547.6px"></i><i style="left:221.6px;top:1547.6px"></i><i style="left:248.0px;top:1547.6px"></i><i style="left:115.6px;top:1578.4px"></i><i style="left:142.1px;top:1578.4px"></i><i style="left:168.6px;top:1578.4px"></i><i style="left:195.1px;top:1578.4px"></i><i style="left:221.6px;top:1578.4px"></i><i style="left:115.6px;top:1609.2px"></i><i style="left:142.1px;top:1609.2px"></i><i style="left:168.6px;top:1609.2px"></i><i style="left:195.1px;top:1609.2px"></i><i style="left:115.6px;top:1640.0px"></i><i style="left:142.1px;top:1640.0px"></i><i style="left:168.6px;top:1640.0px"></i><i style="left:195.1px;top:1640.0px"></i></div>
<div class="cd" style="left:120.40000000000009px;top:7.6px"><span class="k">import</span> <span class="s">'widgets'</span>;
<span class="k">import</span> <span class="s">'dockview-core/dist/styles/dockview.css'</span>;
<span class="k">import</span> { <span class="d">createDockview</span> } <span class="k">from</span> <span class="s">"dockview-core"</span>;

<span class="k">import</span> { <span class="d">Panel</span>, <span class="d">RightHeader</span> } <span class="k">from</span> <span class="s">'./components'</span>;
<span class="k">import</span> { <span class="d">matchTheme</span> } <span class="k">from</span> <span class="s">'./utils'</span>;

HTMLWidgets.<span class="p">widget</span>({

  <span class="p">name</span>: <span class="s">'dock_view'</span>,

  <span class="p">type</span>: <span class="s">'output'</span>,

  <span class="p">factory</span>: <span class="k">function</span> (<span class="d">el</span>, <span class="d">width</span>, <span class="d">height</span>) {

    <span class="c">// TODO: define shared variables for this instance</span>

    <span class="k">return</span> {

      <span class="p">renderValue</span>: <span class="k">function</span> (<span class="d">x</span>, <span class="d">id</span> = el.id) {

        <span class="c">// TODO: code to render the widget, e.g.</span>
        <span class="k">const</span> <span class="d">api</span> = createDockview(document.getElementById(id), {
          <span class="p">theme</span>: matchTheme(x.<span class="p">theme</span>),
          <span class="p">createRightHeaderActionComponent</span>: (<span class="d">group</span>) =&gt; {
            <span class="k">return</span> <span class="k">new</span> RightHeader(options)
          },
          <span class="p">createComponent</span>: (<span class="d">options</span>) =&gt; {
            <span class="k">switch</span> (options.<span class="p">name</span>) {
              <span class="k">case</span> <span class="s">'default'</span>:
                <span class="k">return</span> <span class="k">new</span> Panel(options)
            }
          }
        })

        api.<span class="p">onDidAddPanel</span>((<span class="d">e</span>) =&gt; {
          <span class="c">// callback</span>
          <span class="k">let</span> <span class="d">pane</span> = <span class="s">`#</span>${e.<span class="p">params</span>.<span class="p">id</span>}<span class="s">`</span>
          Shiny.<span class="p">initializeInputs</span>($(pane))
        })

        <span class="c">// Bind input/output only once panels</span>
        <span class="c">// are in the DOM</span>
        api.<span class="p">onDidActivePanelChange</span>((<span class="d">e</span>) =&gt; {
          <span class="k">let</span> <span class="d">pane</span> = <span class="s">`#</span>${e.<span class="p">params</span>.<span class="p">id</span>}<span class="s">`</span>
          <span class="k">let</span> <span class="d">isBound</span> = $(pane)
            .<span class="p">find</span>(<span class="s">'.shiny-bound-input, .shiny-bound-output'</span>)
            .<span class="p">length</span> &gt; <span class="n">0</span>
          <span class="k">if</span> (!isBound) {
            console.<span class="p">log</span>(<span class="s">`Binding panel ${e.id}.`</span>)
            Shiny.<span class="p">bindAll</span>($(pane))
          }
        })
</div>
<div class="cd ln" style="left:0;top:7.6px;width:74px">1
2
3
<span class="z">4</span>
5
6
<span class="z">7</span>
8
<span class="z">9</span>
10
<span class="z">11</span>
12
<span class="z">13</span>
14
<span class="z">15</span>
16
<span class="z">17</span>
18
<span class="z">19</span>
20
<span class="z">21</span>
22
23
24
25
26
27
28
29
30
31
32
33
34
<span class="z">35</span>
36
37
38
39
40
<span class="z">41</span>
42
43
44
45
46
47
48
49
50
51
52
53
<span class="z">54</span></div>
</div>
<div class="b" style="left:3112px;top:1772px;width:610px;height:2px;background:#5e5e5e;"></div>
<div class="t" style="left:3125.5px;top:1786.6px;font:27px 'DejaVu Sans Mono', 'Liberation Mono', monospace;line-height:1;color:#e3e3e3;letter-spacing:3.5px;-webkit-text-stroke:0.5px;">{}</div>
<div class="t" style="left:3280.6px;top:1789.0px;font:24px 'Liberation Sans', sans-serif;line-height:1;color:#e3e3e3;transform:scaleX(1.0213);-webkit-text-stroke:0.25px;">(From </div>
<div class="t" style="left:3353.2px;top:1789.0px;font:24px 'Liberation Sans', sans-serif;line-height:1;color:#e3e3e3;transform:scaleX(1.0774);text-decoration:underline;-webkit-text-stroke:0.25px;">dock_view.js</div>
<div class="t" style="left:3497.2px;top:1789.0px;font:24px 'Liberation Sans', sans-serif;line-height:1;color:#e3e3e3;-webkit-text-stroke:0.25px;">)</div>
<div class="t" style="left:3530.0px;top:1789.0px;font:24px 'Liberation Sans', sans-serif;line-height:1;color:#a8c7fa;transform:scaleX(1.0073);-webkit-text-stroke:0.25px;">Coverage: n/a</div>
<div class="b" style="left:3724px;top:106px;width:420px;height:42.5px;background:#2d2f34;"></div>
<div class="t" style="left:3765.6px;top:114.3px;font:24px 'Liberation Sans', sans-serif;line-height:1;color:#e3e3e3;transform:scaleX(1.0676);-webkit-text-stroke:0.25px;">Watch</div>
<div class="b" style="left:3724px;top:148.5px;width:420px;height:44px;background:#2d2f34;"></div>
<div class="t" style="left:3765.6px;top:159.4px;font:24px 'Liberation Sans', sans-serif;line-height:1;color:#e3e3e3;transform:scaleX(1.0632);-webkit-text-stroke:0.25px;">Breakpoints</div>
<div class="b" style="left:3724px;top:191.0px;width:420px;height:2px;background:#5e5e5e;"></div>
<div class="t" style="left:3772.1px;top:204.7px;font:24px 'Liberation Sans', sans-serif;line-height:1;color:#e3e3e3;transform:scaleX(1.0509);-webkit-text-stroke:0.25px;">Pause on uncaught exceptions</div>
<div class="t" style="left:3772.1px;top:241.0px;font:24px 'Liberation Sans', sans-serif;line-height:1;color:#e3e3e3;transform:scaleX(1.0508);-webkit-text-stroke:0.25px;">Pause on caught exceptions</div>
<div class="b" style="left:3724px;top:276.5px;width:420px;height:44px;background:#2d2f34;"></div>
<div class="t" style="left:3765.6px;top:287.4px;font:24px 'Liberation Sans', sans-serif;line-height:1;color:#e3e3e3;transform:scaleX(1.0529);-webkit-text-stroke:0.25px;">Scope</div>
<div class="b" style="left:3724px;top:319.0px;width:420px;height:2px;background:#5e5e5e;"></div>
<div class="t" style="left:3873.0px;top:335.2px;font:italic 24px 'Liberation Sans', sans-serif;line-height:1;color:#9a9a9a;transform:scaleX(1.0716);-webkit-text-stroke:0.25px;">Not paused</div>
<div class="b" style="left:3724px;top:372px;width:420px;height:44px;background:#2d2f34;"></div>
<div class="t" style="left:3765.6px;top:382.9px;font:24px 'Liberation Sans', sans-serif;line-height:1;color:#e3e3e3;transform:scaleX(1.0529);-webkit-text-stroke:0.25px;">Call Stack</div>
<div class="b" style="left:3724px;top:414.5px;width:420px;height:2px;background:#5e5e5e;"></div>
<div class="t" style="left:3873.0px;top:430.9px;font:italic 24px 'Liberation Sans', sans-serif;line-height:1;color:#9a9a9a;transform:scaleX(1.0716);-webkit-text-stroke:0.25px;">Not paused</div>
<div class="b" style="left:3724px;top:467.6px;width:420px;height:220px;background:#2d2f34;"></div>
<div class="t" style="left:3765.7px;top:479.0px;font:24px 'Liberation Sans', sans-serif;line-height:1;color:#e3e3e3;transform:scaleX(1.0563);-webkit-text-stroke:0.25px;">XHR/fetch Breakpoints</div>
<div class="t" style="left:3765.7px;top:522.8px;font:24px 'Liberation Sans', sans-serif;line-height:1;color:#e3e3e3;transform:scaleX(1.0473);-webkit-text-stroke:0.25px;">DOM Breakpoints</div>
<div class="t" style="left:3765.7px;top:566.8px;font:24px 'Liberation Sans', sans-serif;line-height:1;color:#e3e3e3;transform:scaleX(1.0532);-webkit-text-stroke:0.25px;">Global Listeners</div>
<div class="t" style="left:3765.7px;top:610.9px;font:24px 'Liberation Sans', sans-serif;line-height:1;color:#e3e3e3;transform:scaleX(1.0548);-webkit-text-stroke:0.25px;">Event Listener Breakpoints</div>
<div class="t" style="left:3765.7px;top:654.9px;font:24px 'Liberation Sans', sans-serif;line-height:1;color:#e3e3e3;transform:scaleX(1.0489);-webkit-text-stroke:0.25px;">CSP Violation Breakpoints</div>
<div class="b" style="left:2582px;top:1826px;width:1562px;height:56px;background:#3c3c3c;"></div>
<div class="b" style="left:2582px;top:1826px;width:1562px;height:2px;background:#5e5e5e;"></div>
<div class="b" style="left:2582px;top:1880px;width:1562px;height:2px;background:#5e5e5e;"></div>
<div class="b" style="left:2582px;top:1934px;width:1562px;height:2px;background:#5e5e5e;"></div>
<div class="t" style="left:2657.4px;top:1845.0px;font:24px 'Liberation Sans', sans-serif;line-height:1;color:#a8c7fa;transform:scaleX(1.0783);-webkit-text-stroke:0.75px;">Console</div>
<div class="b" style="left:2637.6px;top:1877.5px;width:134.4px;height:4.5px;background:#a8c7fa;border-radius:5px 5px 0 0;"></div>
<div class="t" style="left:2791.7px;top:1845.0px;font:24px 'Liberation Sans', sans-serif;line-height:1;color:#c7c7c7;transform:scaleX(1.0661);-webkit-text-stroke:0.75px;">Issues</div>
<div class="t" style="left:2934.0px;top:1845.0px;font:24px 'Liberation Sans', sans-serif;line-height:1;color:#c7c7c7;transform:scaleX(1.0986);-webkit-text-stroke:0.75px;">What's new</div>
<div class="t" style="left:3137.7px;top:1845.0px;font:24px 'Liberation Sans', sans-serif;line-height:1;color:#c7c7c7;transform:scaleX(1.0765);-webkit-text-stroke:0.75px;">AI assistance</div>
<div class="b" style="left:2706.2px;top:1892px;width:2px;height:32px;background:#5e5e5e;"></div>
<div class="t" style="left:2731.7px;top:1896.8px;font:24px 'Liberation Sans', sans-serif;line-height:1;color:#e3e3e3;transform:scaleX(1.1134);-webkit-text-stroke:0.25px;">top</div>
<div class="b" style="left:2816.8px;top:1892px;width:2px;height:32px;background:#5e5e5e;"></div>
<div class="b" style="left:2891px;top:1892px;width:2px;height:32px;background:#5e5e5e;"></div>
<div class="b" style="left:2907px;top:1888px;width:765px;height:40px;background:#3c3c3c;border-radius:20px;"></div>
<div class="t" style="left:2962.1px;top:1896.8px;font:24px 'Liberation Sans', sans-serif;line-height:1;color:#c7c7c7;transform:scaleX(1.0903);-webkit-text-stroke:0.25px;">Filter</div>
<div class="b" style="left:3682px;top:1888px;width:200px;height:40px;background:#333333;border-radius:8px;"></div>
<div class="t" style="left:3692.7px;top:1896.8px;font:24px 'Liberation Sans', sans-serif;line-height:1;color:#8f8f8f;transform:scaleX(1.0665);-webkit-text-stroke:0.25px;">Default levels</div>
<div class="b" style="left:3894px;top:1892px;width:2px;height:32px;background:#5e5e5e;"></div>
<div class="t" style="left:3920.2px;top:1896.8px;font:24px 'Liberation Sans', sans-serif;line-height:1;color:#e3e3e3;transform:scaleX(1.0073);-webkit-text-stroke:0.25px;">1 Issue:</div>
<div class="t" style="left:4047.7px;top:1897.1px;font:24px 'Liberation Sans', sans-serif;line-height:1;color:#c7c7c7;-webkit-text-stroke:0.25px;">1</div>
<div class="b" style="left:4080px;top:1892px;width:2px;height:32px;background:#5e5e5e;"></div>
<div class="b" style="left:2831.8px;top:1936px;width:2px;height:506px;background:#5e5e5e;"></div>
<div class="b" style="left:2582px;top:1948px;width:242px;height:43.5px;background:#3c3c3c;border-radius:0 22px 22px 0;"></div>
<div class="t" style="left:2681.7px;top:1958.4px;font:24px 'Liberation Sans', sans-serif;line-height:1;color:#c7c7c7;transform:scaleX(1.0346);-webkit-text-stroke:0.25px;">3 messag...</div>
<div class="t" style="left:2681.7px;top:2002.6px;font:24px 'Liberation Sans', sans-serif;line-height:1;color:#e3e3e3;transform:scaleX(1.0382);-webkit-text-stroke:0.25px;">3 user me...</div>
<div class="t" style="left:2681.7px;top:2046.8px;font:24px 'Liberation Sans', sans-serif;line-height:1;color:#e3e3e3;transform:scaleX(1.0663);-webkit-text-stroke:0.25px;">No errors</div>
<div class="t" style="left:2681.7px;top:2091.0px;font:24px 'Liberation Sans', sans-serif;line-height:1;color:#e3e3e3;transform:scaleX(1.0351);-webkit-text-stroke:0.25px;">No warnin...</div>
<div class="t" style="left:2681.7px;top:2135.2px;font:24px 'Liberation Sans', sans-serif;line-height:1;color:#e3e3e3;transform:scaleX(1.0944);-webkit-text-stroke:0.25px;">3 info</div>
<div class="t" style="left:2681.7px;top:2179.4px;font:24px 'Liberation Sans', sans-serif;line-height:1;color:#e3e3e3;transform:scaleX(1.0532);-webkit-text-stroke:0.25px;">No verbose</div>
<div class="t" style="left:2889.8px;top:1949.8px;font:22px 'DejaVu Sans Mono', 'Liberation Mono', monospace;line-height:1;color:#e3e3e3;-webkit-text-stroke:0.25px;">Binding panel 1.</div>
<div class="t" style="left:3889.5px;top:1949.8px;font:22px 'DejaVu Sans Mono', 'Liberation Mono', monospace;line-height:1;color:#a8c7fa;text-decoration:underline;-webkit-text-stroke:0.25px;">dock_view.js:50</div>
<div class="b" style="left:2890px;top:1982.3px;width:1205.5px;height:1.6px;background:#5a5a5a;"></div>
<div class="t" style="left:2889.8px;top:1991.8px;font:22px 'DejaVu Sans Mono', 'Liberation Mono', monospace;line-height:1;color:#e3e3e3;-webkit-text-stroke:0.25px;">Binding panel 2.</div>
<div class="t" style="left:3889.5px;top:1991.8px;font:22px 'DejaVu Sans Mono', 'Liberation Mono', monospace;line-height:1;color:#a8c7fa;text-decoration:underline;-webkit-text-stroke:0.25px;">dock_view.js:50</div>
<div class="b" style="left:2890px;top:2024.3px;width:1205.5px;height:1.6px;background:#5a5a5a;"></div>
<div class="t" style="left:2889.8px;top:2033.8px;font:22px 'DejaVu Sans Mono', 'Liberation Mono', monospace;line-height:1;color:#e3e3e3;-webkit-text-stroke:0.25px;">Binding panel 3.</div>
<div class="t" style="left:3889.5px;top:2033.8px;font:22px 'DejaVu Sans Mono', 'Liberation Mono', monospace;line-height:1;color:#a8c7fa;text-decoration:underline;-webkit-text-stroke:0.25px;">dock_view.js:50</div>
<svg style="left:0;top:0" width="4144" height="2442" viewBox="0 0 4144 2442"><rect x="2599.9" y="10.0" width="3.2" height="3.2" rx="0" fill="#c7c7c7" stroke="none" stroke-width="0"/><rect x="2606.2" y="10.0" width="3.2" height="3.2" rx="0" fill="#c7c7c7" stroke="none" stroke-width="0"/><rect x="2599.9" y="16.2" width="3.2" height="3.2" rx="0" fill="#c7c7c7" stroke="none" stroke-width="0"/><rect x="2612.4" y="10.0" width="3.2" height="3.2" rx="0" fill="#c7c7c7" stroke="none" stroke-width="0"/><rect x="2599.9" y="22.5" width="3.2" height="3.2" rx="0" fill="#c7c7c7" stroke="none" stroke-width="0"/><rect x="2618.7" y="10.0" width="3.2" height="3.2" rx="0" fill="#c7c7c7" stroke="none" stroke-width="0"/><rect x="2599.9" y="28.8" width="3.2" height="3.2" rx="0" fill="#c7c7c7" stroke="none" stroke-width="0"/><rect x="2624.9" y="10.0" width="3.2" height="3.2" rx="0" fill="#c7c7c7" stroke="none" stroke-width="0"/><rect x="2599.9" y="35.0" width="3.2" height="3.2" rx="0" fill="#c7c7c7" stroke="none" stroke-width="0"/><rect x="2624.9" y="16.2" width="3.2" height="3.2" rx="0" fill="#c7c7c7" stroke="none" stroke-width="0"/><rect x="2606.2" y="35.0" width="3.2" height="3.2" rx="0" fill="#c7c7c7" stroke="none" stroke-width="0"/><path d="M2628.2 23.6H2613.6V38.2 M2614.5 24.5L2627 37" stroke="#c7c7c7" stroke-width="3.3" fill="none" /><path d="M2684.1 13.5H2659.4V32" stroke="#c7c7c7" stroke-width="3.3" fill="none" /><rect x="2653.9" y="31.9" width="16.1" height="4.1" rx="0" fill="#c7c7c7" stroke="none" stroke-width="0"/><rect x="2675.4" y="19.2" width="9.1" height="15.3" rx="1.5" fill="none" stroke="#c7c7c7" stroke-width="3.2"/><path d="M3775.7 15.8L3784.5 24L3775.7 32.2 M3787.5 15.8L3796.3 24L3787.5 32.2" stroke="#c7c7c7" stroke-width="2.7" fill="none" /><path d="M3912 16.5H3926.7Q3929.7 16.5 3929.7 19.5V29.5Q3929.7 32.5 3926.7 32.5H3913L3909 36.1V19.5Q3909 16.5 3912 16.5Z" stroke="none" stroke-width="3" fill="#f0925c" /><rect x="3918.1" y="19.7" width="2.6" height="6.6" rx="0" fill="#3c3c3c" stroke="none" stroke-width="0"/><rect x="3918.1" y="27.5" width="2.6" height="2.6" rx="0" fill="#3c3c3c" stroke="none" stroke-width="0"/><path d="M4007.1 14.5L4007.5 10.8L4012.5 10.8L4012.9 14.5L4016.7 16.7L4020.1 15.2L4022.7 19.6L4019.7 21.8L4019.7 26.2L4022.7 28.4L4020.1 32.8L4016.7 31.3L4012.9 33.5L4012.5 37.2L4007.5 37.2L4007.1 33.5L4003.3 31.3L3999.9 32.8L3997.3 28.4L4000.3 26.2L4000.3 21.8L3997.3 19.6L3999.9 15.2L4003.3 16.7Z" stroke="#c7c7c7" stroke-width="3" fill="none" stroke-linejoin="round"/><circle cx="4010.0" cy="24.0" r="5.6" fill="#c7c7c7" stroke="none" stroke-width="0"/><circle cx="4066.0" cy="15.2" r="3" fill="#c7c7c7" stroke="none" stroke-width="0"/><circle cx="4066.0" cy="24.0" r="3" fill="#c7c7c7" stroke="none" stroke-width="0"/><circle cx="4066.0" cy="32.8" r="3" fill="#c7c7c7" stroke="none" stroke-width="0"/><path d="M4106.5 15L4125.8 33.4M4125.8 15L4106.5 33.4" stroke="#c7c7c7" stroke-width="2.7" fill="none" /><path d="M3013.7 69.8L3022.5 78L3013.7 86.2 M3025.5 69.8L3034.3 78L3025.5 86.2" stroke="#c7c7c7" stroke-width="2.7" fill="none" /><circle cx="3077.6" cy="66.5" r="2.8" fill="#c7c7c7" stroke="none" stroke-width="0"/><circle cx="3077.6" cy="78.0" r="2.8" fill="#c7c7c7" stroke="none" stroke-width="0"/><circle cx="3077.6" cy="89.5" r="2.8" fill="#c7c7c7" stroke="none" stroke-width="0"/><rect x="3131.9" y="65.9" width="24.5" height="24.5" rx="3" fill="none" stroke="#c7c7c7" stroke-width="3"/><path d="M3139.9 65.9V90.4" stroke="#c7c7c7" stroke-width="3" fill="none" /><path d="M3151.4 71.60000000000001L3144.4 78.15L3151.4 84.7Z" stroke="none" stroke-width="3" fill="#c7c7c7" /><path d="M3350 71.5L3364 85.5M3364 71.5L3350 85.5" stroke="#c7c7c7" stroke-width="2.4" fill="none" /><rect x="3677.7" y="65.8" width="24.5" height="24.5" rx="3" fill="none" stroke="#c7c7c7" stroke-width="3"/><path d="M3694.7 65.8V90.3" stroke="#c7c7c7" stroke-width="3" fill="none" /><path d="M3682.7 71.5L3689.7 78.05L3682.7 84.6Z" stroke="none" stroke-width="3" fill="#c7c7c7" /><rect x="3745.3" y="67.8" width="7.5" height="20.8" fill="none" stroke="#c7c7c7" stroke-width="3"/><rect x="3759.7" y="67.8" width="7.5" height="20.8" fill="none" stroke="#c7c7c7" stroke-width="3"/><path d="M3802 77.5A11.5 11.5 0 0 1 3822.5 73.5" stroke="#7f7f7f" stroke-width="3" fill="none" /><path d="M3823.2 66.5V75H3814.7" stroke="#7f7f7f" stroke-width="3" fill="none" /><circle cx="3811.8" cy="84.9" r="5" fill="#7f7f7f" stroke="none" stroke-width="0"/><path d="M3867.9 62.5V80 M3860 73L3867.9 80.8L3875.8 73" stroke="#7f7f7f" stroke-width="3" fill="none" /><circle cx="3867.9" cy="89.0" r="5" fill="#7f7f7f" stroke="none" stroke-width="0"/><path d="M3923.8 81V63.5 M3915.9 71L3923.8 63.2L3931.7 71" stroke="#7f7f7f" stroke-width="3" fill="none" /><circle cx="3923.8" cy="89.0" r="5" fill="#7f7f7f" stroke="none" stroke-width="0"/><path d="M3964 78.2H3981 M3973.5 70.2L3981.8 78.2L3973.5 86.2" stroke="#7f7f7f" stroke-width="3" fill="none" /><circle cx="3991.0" cy="78.2" r="5" fill="#7f7f7f" stroke="none" stroke-width="0"/><path d="M4043 69.5H4059L4066 78.2L4061.5 84 M4054 87H4038V72.5" stroke="#c7c7c7" stroke-width="3" fill="none" /><path d="M4037.5 65L4065.2 93" stroke="#c7c7c7" stroke-width="3" fill="none" /><path d="M2602.7 135.4H2618.2999999999997L2610.5 146.7Z" stroke="none" stroke-width="3" fill="#e0e0e0" /><rect x="2635.5" y="129.5" width="29" height="21" rx="2.5" fill="none" stroke="#c7c7c7" stroke-width="3"/><rect x="2635.5" y="129.5" width="29.0" height="5.0" rx="0" fill="#c7c7c7" stroke="none" stroke-width="0"/><path d="M2627 179.4H2642.6L2634.8 190.7Z" stroke="none" stroke-width="3" fill="#e0e0e0" /><path d="M2665.3 194.7A7.6 7.6 0 0 1 2664.3 179.6A10.6 10.6 0 0 1 2684.4 181.89999999999998A6.5 6.5 0 0 1 2684.3 194.7Z" stroke="#c7c7c7" stroke-width="3" fill="none" stroke-linejoin="round"/><path d="M2653.7 219.70000000000002V235.1L2665.2999999999997 227.4Z" stroke="none" stroke-width="3" fill="#e0e0e0" /><path d="M2682 218.5Q2682 215.5 2685 215.5H2693.5L2697.5 219.7H2711Q2714 219.7 2714 222.7V237.1Q2714 240.1 2711 240.1H2685Q2682 240.1 2682 237.1ZM2685.2 223.5V236.9H2710.8V223.5Z" stroke="none" stroke-width="3" fill="#8ab0f8" fill-rule="evenodd"/><path d="M2653.7 263.7V279.09999999999997L2665.2999999999997 271.4Z" stroke="none" stroke-width="3" fill="#e0e0e0" /><path d="M2682 262.5Q2682 259.5 2685 259.5H2693.5L2697.5 263.7H2711Q2714 263.7 2714 266.7V281.1Q2714 284.1 2711 284.1H2685Q2682 284.1 2682 281.1ZM2685.2 267.5V280.9H2710.8V267.5Z" stroke="none" stroke-width="3" fill="#8ab0f8" fill-rule="evenodd"/><path d="M2653.7 307.7V323.09999999999997L2665.2999999999997 315.4Z" stroke="none" stroke-width="3" fill="#e0e0e0" /><path d="M2682 306.5Q2682 303.5 2685 303.5H2693.5L2697.5 307.7H2711Q2714 307.7 2714 310.7V325.1Q2714 328.1 2711 328.1H2685Q2682 328.1 2682 325.1ZM2685.2 311.5V324.9H2710.8V311.5Z" stroke="none" stroke-width="3" fill="#8ab0f8" fill-rule="evenodd"/><path d="M2653.7 351.7V367.09999999999997L2665.2999999999997 359.4Z" stroke="none" stroke-width="3" fill="#e0e0e0" /><path d="M2682 350.5Q2682 347.5 2685 347.5H2693.5L2697.5 351.7H2711Q2714 351.7 2714 354.7V369.1Q2714 372.1 2711 372.1H2685Q2682 372.1 2682 369.1ZM2685.2 355.5V368.9H2710.8V355.5Z" stroke="none" stroke-width="3" fill="#8ab0f8" fill-rule="evenodd"/><path d="M2653.7 395.7V411.09999999999997L2665.2999999999997 403.4Z" stroke="none" stroke-width="3" fill="#e0e0e0" /><path d="M2682 394.5Q2682 391.5 2685 391.5H2693.5L2697.5 395.7H2711Q2714 395.7 2714 398.7V413.1Q2714 416.1 2711 416.1H2685Q2682 416.1 2682 413.1ZM2685.2 399.5V412.9H2710.8V399.5Z" stroke="none" stroke-width="3" fill="#8ab0f8" fill-rule="evenodd"/><path d="M2653.7 439.7V455.09999999999997L2665.2999999999997 447.4Z" stroke="none" stroke-width="3" fill="#e0e0e0" /><path d="M2682 438.5Q2682 435.5 2685 435.5H2693.5L2697.5 439.7H2711Q2714 439.7 2714 442.7V457.1Q2714 460.1 2711 460.1H2685Q2682 460.1 2682 457.1ZM2685.2 443.5V456.9H2710.8V443.5Z" stroke="none" stroke-width="3" fill="#8ab0f8" fill-rule="evenodd"/><path d="M2653.7 483.7V499.09999999999997L2665.2999999999997 491.4Z" stroke="none" stroke-width="3" fill="#e0e0e0" /><path d="M2682 482.5Q2682 479.5 2685 479.5H2693.5L2697.5 483.7H2711Q2714 483.7 2714 486.7V501.1Q2714 504.1 2711 504.1H2685Q2682 504.1 2682 501.1ZM2685.2 487.5V500.9H2710.8V487.5Z" stroke="none" stroke-width="3" fill="#8ab0f8" fill-rule="evenodd"/><path d="M2653.7 527.6999999999999V543.1L2665.2999999999997 535.4Z" stroke="none" stroke-width="3" fill="#e0e0e0" /><path d="M2682 526.5Q2682 523.5 2685 523.5H2693.5L2697.5 527.7H2711Q2714 527.7 2714 530.7V545.1Q2714 548.1 2711 548.1H2685Q2682 548.1 2682 545.1ZM2685.2 531.5V544.9H2710.8V531.5Z" stroke="none" stroke-width="3" fill="#8ab0f8" fill-rule="evenodd"/><path d="M2653.7 571.6999999999999V587.1L2665.2999999999997 579.4Z" stroke="none" stroke-width="3" fill="#e0e0e0" /><path d="M2682 570.5Q2682 567.5 2685 567.5H2693.5L2697.5 571.7H2711Q2714 571.7 2714 574.7V589.1Q2714 592.1 2711 592.1H2685Q2682 592.1 2682 589.1ZM2685.2 575.5V588.9H2710.8V575.5Z" stroke="none" stroke-width="3" fill="#8ab0f8" fill-rule="evenodd"/><path d="M2653.7 615.6999999999999V631.1L2665.2999999999997 623.4Z" stroke="none" stroke-width="3" fill="#e0e0e0" /><path d="M2682 614.5Q2682 611.5 2685 611.5H2693.5L2697.5 615.7H2711Q2714 615.7 2714 618.7V633.1Q2714 636.1 2711 636.1H2685Q2682 636.1 2682 633.1ZM2685.2 619.5V632.9H2710.8V619.5Z" stroke="none" stroke-width="3" fill="#8ab0f8" fill-rule="evenodd"/><path d="M2653.7 659.6999999999999V675.1L2665.2999999999997 667.4Z" stroke="none" stroke-width="3" fill="#e0e0e0" /><path d="M2682 658.5Q2682 655.5 2685 655.5H2693.5L2697.5 659.7H2711Q2714 659.7 2714 662.7V677.1Q2714 680.1 2711 680.1H2685Q2682 680.1 2682 677.1ZM2685.2 663.5V676.9H2710.8V663.5Z" stroke="none" stroke-width="3" fill="#f5b396" fill-rule="evenodd"/><path d="M2653.7 703.6999999999999V719.1L2665.2999999999997 711.4Z" stroke="none" stroke-width="3" fill="#e0e0e0" /><path d="M2682 702.5Q2682 699.5 2685 699.5H2693.5L2697.5 703.7H2711Q2714 703.7 2714 706.7V721.1Q2714 724.1 2711 724.1H2685Q2682 724.1 2682 721.1ZM2685.2 707.5V720.9H2710.8V707.5Z" stroke="none" stroke-width="3" fill="#7a5f55" fill-rule="evenodd"/><path d="M2653.7 747.6999999999999V763.1L2665.2999999999997 755.4Z" stroke="none" stroke-width="3" fill="#e0e0e0" /><path d="M2682 746.5Q2682 743.5 2685 743.5H2693.5L2697.5 747.7H2711Q2714 747.7 2714 750.7V765.1Q2714 768.1 2711 768.1H2685Q2682 768.1 2682 765.1ZM2685.2 751.5V764.9H2710.8V751.5Z" stroke="none" stroke-width="3" fill="#8ab0f8" fill-rule="evenodd"/><path d="M2653.7 791.6999999999999V807.1L2665.2999999999997 799.4Z" stroke="none" stroke-width="3" fill="#e0e0e0" /><path d="M2682 790.5Q2682 787.5 2685 787.5H2693.5L2697.5 791.7H2711Q2714 791.7 2714 794.7V809.1Q2714 812.1 2711 812.1H2685Q2682 812.1 2682 809.1ZM2685.2 795.5V808.9H2710.8V795.5Z" stroke="none" stroke-width="3" fill="#8ab0f8" fill-rule="evenodd"/><path d="M2653.7 835.6999999999999V851.1L2665.2999999999997 843.4Z" stroke="none" stroke-width="3" fill="#e0e0e0" /><path d="M2682 834.5Q2682 831.5 2685 831.5H2693.5L2697.5 835.7H2711Q2714 835.7 2714 838.7V853.1Q2714 856.1 2711 856.1H2685Q2682 856.1 2682 853.1ZM2685.2 839.5V852.9H2710.8V839.5Z" stroke="none" stroke-width="3" fill="#8ab0f8" fill-rule="evenodd"/><path d="M2653.7 879.6999999999999V895.1L2665.2999999999997 887.4Z" stroke="none" stroke-width="3" fill="#e0e0e0" /><path d="M2682 878.5Q2682 875.5 2685 875.5H2693.5L2697.5 879.7H2711Q2714 879.7 2714 882.7V897.1Q2714 900.1 2711 900.1H2685Q2682 900.1 2682 897.1ZM2685.2 883.5V896.9H2710.8V883.5Z" stroke="none" stroke-width="3" fill="#8ab0f8" fill-rule="evenodd"/><path d="M2653.7 923.6999999999999V939.1L2665.2999999999997 931.4Z" stroke="none" stroke-width="3" fill="#e0e0e0" /><path d="M2682 922.5Q2682 919.5 2685 919.5H2693.5L2697.5 923.7H2711Q2714 923.7 2714 926.7V941.1Q2714 944.1 2711 944.1H2685Q2682 944.1 2682 941.1ZM2685.2 927.5V940.9H2710.8V927.5Z" stroke="none" stroke-width="3" fill="#f5b396" fill-rule="evenodd"/><path d="M2653.7 967.6999999999999V983.1L2665.2999999999997 975.4Z" stroke="none" stroke-width="3" fill="#e0e0e0" /><path d="M2682 966.5Q2682 963.5 2685 963.5H2693.5L2697.5 967.7H2711Q2714 967.7 2714 970.7V985.1Q2714 988.1 2711 988.1H2685Q2682 988.1 2682 985.1ZM2685.2 971.5V984.9H2710.8V971.5Z" stroke="none" stroke-width="3" fill="#8ab0f8" fill-rule="evenodd"/><path d="M2690 1005.9H2701.2L2708.4 1013.0999999999999V1031.3Q2708.4 1034.1 2705.6 1034.1H2690.4Q2687.6 1034.1 2687.6 1031.3V1008.6999999999999Q2687.6 1005.9 2690.4 1005.9Z" stroke="#c7c7c7" stroke-width="3.2" fill="none" stroke-linejoin="round"/><path d="M2700 1005.9H2701.2L2708.4 1013.0999999999999V1014.5H2700Z" stroke="none" stroke-width="3" fill="#c7c7c7" /><path d="M2629 1055.7V1071.1000000000001L2640.6 1063.4Z" stroke="none" stroke-width="3" fill="#e0e0e0" /><path d="M2665.3 1074.7A7.6 7.6 0 0 1 2664.3 1059.6000000000001A10.6 10.6 0 0 1 2684.4 1061.9A6.5 6.5 0 0 1 2684.3 1074.7Z" stroke="#c7c7c7" stroke-width="3" fill="none" stroke-linejoin="round"/><path d="M2627 1103.4H2642.6L2634.8 1114.7Z" stroke="none" stroke-width="3" fill="#e0e0e0" /><path d="M2665.3 1118.7A7.6 7.6 0 0 1 2664.3 1103.6000000000001A10.6 10.6 0 0 1 2684.4 1105.9A6.5 6.5 0 0 1 2684.3 1118.7Z" stroke="#c7c7c7" stroke-width="3" fill="none" stroke-linejoin="round"/><path d="M2653.7 1143.7V1159.1000000000001L2665.2999999999997 1151.4Z" stroke="none" stroke-width="3" fill="#e0e0e0" /><path d="M2682 1142.5Q2682 1139.5 2685 1139.5H2693.5L2697.5 1143.7H2711Q2714 1143.7 2714 1146.7V1161.1Q2714 1164.1 2711 1164.1H2685Q2682 1164.1 2682 1161.1ZM2685.2 1147.5V1160.9H2710.8V1147.5Z" stroke="none" stroke-width="3" fill="#7a5f55" fill-rule="evenodd"/><path d="M2651.7 1191.4H2667.2999999999997L2659.5 1202.7Z" stroke="none" stroke-width="3" fill="#e0e0e0" /><path d="M2682 1186.5Q2682 1183.5 2685 1183.5H2693.5L2697.5 1187.7H2711Q2714 1187.7 2714 1190.7V1205.1Q2714 1208.1 2711 1208.1H2685Q2682 1208.1 2682 1205.1ZM2685.2 1191.5V1204.9H2710.8V1191.5Z" stroke="none" stroke-width="3" fill="#f5b396" fill-rule="evenodd"/><path d="M2714 1225.8999999999999H2725.2L2732.4 1233.1V1251.3Q2732.4 1254.1 2729.6 1254.1H2714.4Q2711.6 1254.1 2711.6 1251.3V1228.7Q2711.6 1225.8999999999999 2714.4 1225.8999999999999Z" stroke="#f28e5c" stroke-width="3.2" fill="none" stroke-linejoin="round"/><path d="M2724 1225.8999999999999H2725.2L2732.4 1233.1V1234.5H2724Z" stroke="none" stroke-width="3" fill="#f28e5c" /><path d="M2714 1269.8999999999999H2725.2L2732.4 1277.1V1295.3Q2732.4 1298.1 2729.6 1298.1H2714.4Q2711.6 1298.1 2711.6 1295.3V1272.7Q2711.6 1269.8999999999999 2714.4 1269.8999999999999Z" stroke="#1f1f1f" stroke-width="3.2" fill="none" stroke-linejoin="round"/><path d="M2724 1269.8999999999999H2725.2L2732.4 1277.1V1278.5H2724Z" stroke="none" stroke-width="3" fill="#1f1f1f" /><path d="M2714 1313.8999999999999H2725.2L2732.4 1321.1V1339.3Q2732.4 1342.1 2729.6 1342.1H2714.4Q2711.6 1342.1 2711.6 1339.3V1316.7Q2711.6 1313.8999999999999 2714.4 1313.8999999999999Z" stroke="#f28e5c" stroke-width="3.2" fill="none" stroke-linejoin="round"/><path d="M2724 1313.8999999999999H2725.2L2732.4 1321.1V1322.5H2724Z" stroke="none" stroke-width="3" fill="#f28e5c" /><path d="M2653.7 1363.7V1379.1000000000001L2665.2999999999997 1371.4Z" stroke="none" stroke-width="3" fill="#e0e0e0" /><path d="M2682 1362.5Q2682 1359.5 2685 1359.5H2693.5L2697.5 1363.7H2711Q2714 1363.7 2714 1366.7V1381.1Q2714 1384.1 2711 1384.1H2685Q2682 1384.1 2682 1381.1ZM2685.2 1367.5V1380.9H2710.8V1367.5Z" stroke="none" stroke-width="3" fill="#f5b396" fill-rule="evenodd"/><path d="M2690 1401.8999999999999H2701.2L2708.4 1409.1V1427.3Q2708.4 1430.1 2705.6 1430.1H2690.4Q2687.6 1430.1 2687.6 1427.3V1404.7Q2687.6 1401.8999999999999 2690.4 1401.8999999999999Z" stroke="#f28e5c" stroke-width="3.2" fill="none" stroke-linejoin="round"/><path d="M2700 1401.8999999999999H2701.2L2708.4 1409.1V1410.5H2700Z" stroke="none" stroke-width="3" fill="#f28e5c" /><path d="M3744.6 118.45V132.45L3755 125.45Z" stroke="none" stroke-width="3" fill="#c7c7c7" /><path d="M3744 165.5H3757.4L3750.7 176.5Z" stroke="none" stroke-width="3" fill="#c7c7c7" /><rect x="3737.8" y="204.8" width="21.6" height="21.6" rx="4" fill="#3a3a3a" stroke="#8e8e8e" stroke-width="1.6"/><rect x="3737.8" y="241.10000000000002" width="21.6" height="21.6" rx="4" fill="#3a3a3a" stroke="#8e8e8e" stroke-width="1.6"/><path d="M3744 293.5H3757.4L3750.7 304.5Z" stroke="none" stroke-width="3" fill="#c7c7c7" /><path d="M3744 389.0H3757.4L3750.7 400.0Z" stroke="none" stroke-width="3" fill="#c7c7c7" /><path d="M3744.6 483.1V497.1L3755 490.1Z" stroke="none" stroke-width="3" fill="#c7c7c7" /><path d="M3744.6 526.9V540.9L3755 533.9Z" stroke="none" stroke-width="3" fill="#c7c7c7" /><path d="M3744.6 570.9V584.9L3755 577.9Z" stroke="none" stroke-width="3" fill="#c7c7c7" /><path d="M3744.6 615V629L3755 622Z" stroke="none" stroke-width="3" fill="#c7c7c7" /><path d="M3744.6 659V673L3755 666Z" stroke="none" stroke-width="3" fill="#c7c7c7" /><circle cx="2614.4" cy="1844.5" r="2.8" fill="#c7c7c7" stroke="none" stroke-width="0"/><circle cx="2614.4" cy="1855.0" r="2.8" fill="#c7c7c7" stroke="none" stroke-width="0"/><circle cx="2614.4" cy="1865.5" r="2.8" fill="#c7c7c7" stroke="none" stroke-width="0"/><path d="M3305.5 1845.5H3315.5 M3307.5 1846V1853L3300.2 1864.5Q3299.5 1866.3 3301.5 1866.5H3319.5Q3321.5 1866.3 3320.8 1864.5L3313.5 1853V1846" stroke="#c7c7c7" stroke-width="2.4" fill="none" stroke-linejoin="round"/><path d="M4112.5 1845.5L4131.5 1863.5M4131.5 1845.5L4112.5 1863.5" stroke="#c7c7c7" stroke-width="2.7" fill="none" /><rect x="2601.3" y="1895.8" width="24.5" height="24.5" rx="3" fill="none" stroke="#c7c7c7" stroke-width="3"/><path d="M2609.3 1895.8V1920.3" stroke="#c7c7c7" stroke-width="3" fill="none" /><path d="M2620.8 1901.5L2613.8 1908.05L2620.8 1914.6Z" stroke="none" stroke-width="3" fill="#c7c7c7" /><circle cx="2669.8" cy="1908.0" r="13.5" fill="none" stroke="#c7c7c7" stroke-width="3"/><path d="M2660.2 1917.5L2679.4 1898.5" stroke="#c7c7c7" stroke-width="3" fill="none" /><path d="M2780 1904.5H2794.5L2787.2 1915.5Z" stroke="none" stroke-width="3" fill="#c7c7c7" /><path d="M2838.5 1908Q2854.7 1889 2871 1908Q2854.7 1927 2838.5 1908Z" stroke="#c7c7c7" stroke-width="3" fill="none" stroke-linejoin="round"/><circle cx="2854.7" cy="1908.0" r="5.3" fill="none" stroke="#c7c7c7" stroke-width="3"/><path d="M2930.5 1898.5H2947.5L2941 1907.5V1917H2937V1907.5Z" stroke="#c7c7c7" stroke-width="2.6" fill="none" stroke-linejoin="round"/><path d="M3857 1905H3871.5L3864.2 1916Z" stroke="none" stroke-width="3" fill="#8f8f8f" /><path d="M4021.8 1899H4036.5Q4039.5 1899 4039.5 1902V1912Q4039.5 1915 4036.5 1915H4022.8L4018.8 1918.6V1902Q4018.8 1899 4021.8 1899Z" stroke="none" stroke-width="3" fill="#f0925c" /><rect x="4027.9" y="1902.2" width="2.6" height="6.6" rx="0" fill="#3c3c3c" stroke="none" stroke-width="0"/><rect x="4027.9" y="1910.0" width="2.6" height="2.6" rx="0" fill="#3c3c3c" stroke="none" stroke-width="0"/><path d="M4113.1 1898.5L4113.5 1894.8L4118.5 1894.8L4118.9 1898.5L4122.7 1900.7L4126.1 1899.2L4128.7 1903.6L4125.7 1905.8L4125.7 1910.2L4128.7 1912.4L4126.1 1916.8L4122.7 1915.3L4118.9 1917.5L4118.5 1921.2L4113.5 1921.2L4113.1 1917.5L4109.3 1915.3L4105.9 1916.8L4103.3 1912.4L4106.3 1910.2L4106.3 1905.8L4103.3 1903.6L4105.9 1899.2L4109.3 1900.7Z" stroke="#c7c7c7" stroke-width="3" fill="none" stroke-linejoin="round"/><circle cx="4116.0" cy="1908.0" r="5.6" fill="#c7c7c7" stroke="none" stroke-width="0"/><path d="M2605.5 1962.5V1977.1L2617.6 1969.8Z" stroke="none" stroke-width="3" fill="#e0e0e0" /><path d="M2643 1961.8H2664.5" stroke="#c7c7c7" stroke-width="2.6" fill="none" /><circle cx="2636.3" cy="1961.8" r="1.7" fill="#c7c7c7" stroke="none" stroke-width="0"/><path d="M2643 1969.8H2664.5" stroke="#c7c7c7" stroke-width="2.6" fill="none" /><circle cx="2636.3" cy="1969.8" r="1.7" fill="#c7c7c7" stroke="none" stroke-width="0"/><path d="M2643 1977.8H2664.5" stroke="#c7c7c7" stroke-width="2.6" fill="none" /><circle cx="2636.3" cy="1977.8" r="1.7" fill="#c7c7c7" stroke="none" stroke-width="0"/><path d="M2605.5 2006.7V2021.3L2617.6 2014.0Z" stroke="none" stroke-width="3" fill="#e0e0e0" /><circle cx="2650.0" cy="2014.0" r="14" fill="none" stroke="#c7c7c7" stroke-width="3"/><circle cx="2650.0" cy="2010.0" r="4.2" fill="none" stroke="#c7c7c7" stroke-width="2.8"/><path d="M2640.5 2023.5Q2650 2015.5 2659.5 2023.5" stroke="#c7c7c7" stroke-width="2.8" fill="none" /><circle cx="2650.0" cy="2058.2" r="14" fill="none" stroke="#e46962" stroke-width="3"/><path d="M2644 2052.2L2656 2064.2M2656 2052.2L2644 2064.2" stroke="#e46962" stroke-width="2.8" fill="none" /><path d="M2650 2089.4L2665.5 2115.4H2634.5Z" stroke="#f29055" stroke-width="3" fill="none" stroke-linejoin="round"/><rect x="2648.7" y="2099.4" width="2.6" height="8.0" rx="0" fill="#f29055" stroke="none" stroke-width="0"/><rect x="2648.7" y="2109.4" width="2.6" height="2.8" rx="0" fill="#f29055" stroke="none" stroke-width="0"/><path d="M2605.5 2139.2999999999997V2153.9L2617.6 2146.6Z" stroke="none" stroke-width="3" fill="#e0e0e0" /><circle cx="2650.0" cy="2146.6" r="14" fill="none" stroke="#7cacf8" stroke-width="3"/><rect x="2648.6" y="2144.1" width="2.8" height="10.0" rx="0" fill="#7cacf8" stroke="none" stroke-width="0"/><rect x="2648.6" y="2138.6" width="2.8" height="3.0" rx="0" fill="#7cacf8" stroke="none" stroke-width="0"/><rect x="2643.5" y="2183.8" width="13" height="19" rx="6.5" fill="none" stroke="#c7c7c7" stroke-width="2.8"/><path d="M2638 2188.8H2643 M2638 2194.8H2643 M2638 2200.8H2643 M2657 2188.8H2662 M2657 2194.8H2662 M2657 2200.8H2662 M2644.5 2177.8L2647.5 2182.8 M2655.5 2177.8L2652.5 2182.8 M2647.5 2190.8H2652.5 M2647.5 2195.8H2652.5" stroke="#c7c7c7" stroke-width="2.4" fill="none" /><path d="M2860 2081L2868.5 2089.5L2860 2098" stroke="#7cacf8" stroke-width="2.6" fill="none" /></svg>
</body></html>
